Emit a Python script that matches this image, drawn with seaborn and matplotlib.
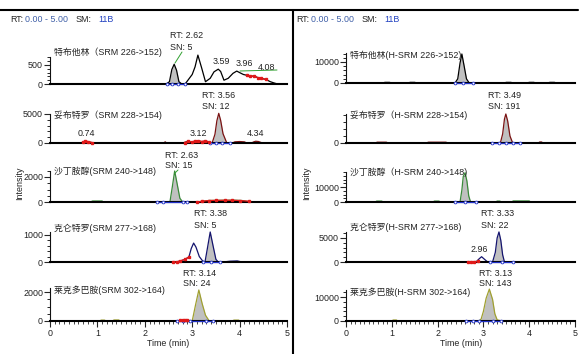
import matplotlib
matplotlib.use("Agg")
import matplotlib.pyplot as plt
import seaborn as sns
import numpy as np

sns.set_style("white")
plt.rcParams['font.family'] = ['Liberation Sans', 'Noto Sans CJK SC', 'DejaVu Sans']

# ---------------- data ----------------
TIME_TICKS = [0, 1, 2, 3, 4, 5]
HEADER = ["RT:", "0.00 - 5.00", "SM:", "11B"]

# left panel (SRM)
L_NAMES = ["特布他林（SRM 226->152)", "妥布特罗（SRM 228->154)", "沙丁胺醇(SRM 240->148)",
           "克仑特罗(SRM 277->168)", "莱克多巴胺(SRM 302->164)"]
R_NAMES = ["特布他林(H-SRM 226->152)", "妥布特罗（H-SRM 228->154)", "沙丁胺醇（H-SRM 240->148)",
           "克仑特罗(H-SRM 277->168)", "莱克多巴胺(H-SRM 302->164)"]

L1_t = [0.0, 1.0, 2.0, 2.45, 2.52, 2.57, 2.62, 2.67, 2.72, 2.78, 2.85, 3.0, 3.06, 3.12, 3.2, 3.28,
        3.38, 3.46, 3.55, 3.6, 3.67, 3.76, 3.86, 3.94, 4.0, 4.08, 4.15, 4.22, 4.3, 4.38, 4.46, 4.55,
        4.65, 4.72, 4.8, 5.0]
L1_v = [0, 0, 0, 0, 60, 380, 520, 360, 60, 0, 0, 250, 450, 760, 420, 60, 150, 320, 390, 330, 100,
        150, 280, 340, 300, 250, 230, 200, 210, 170, 150, 120, 60, 30, 0, 0]
L1_peak = [2.45, 2.78]
L1_blue = [2.47, 2.58, 2.7, 2.85]
L1_red_t = [4.15, 4.22, 4.3, 4.38, 4.46, 4.55]
L1_red_v = [230, 200, 210, 170, 150, 120]

L2_t = [0.0, 0.65, 0.7, 0.74, 0.8, 0.88, 0.95, 2.4, 2.43, 2.46, 2.8, 2.9, 3.0, 3.12, 3.2, 3.3,
        3.38, 3.42, 3.48, 3.52, 3.56, 3.6, 3.65, 3.73, 3.85, 3.9, 4.0, 4.1, 4.15, 4.25, 4.3,
        4.34, 4.4, 4.48, 5.0]
L2_v = [0, 0, 200, 300, 250, 80, 0, 0, 200, 0, 0, 300, 200, 400, 250, 350, 100, 0, 1500, 3800,
        5100, 3900, 1600, 0, 0, 200, 250, 200, 0, 0, 200, 300, 250, 0, 0]
L2_peak = [3.42, 3.73]
L2_blue = [3.38, 3.5, 3.62, 3.8]
L2_red_t = [0.7, 0.74, 0.8, 0.88, np.nan, 2.85, 2.92, 3.0, 3.06, 3.12, 3.2, 3.28, 3.35]
L2_red_v = [200, 300, 250, 80, np.nan, 50, 300, 200, 350, 400, 250, 350, 100]

L3_t = [0.0, 0.85, 0.9, 1.1, 1.12, 2.5, 2.53, 2.58, 2.63, 2.68, 2.74, 2.8, 3.1, 3.2, 3.35, 3.5,
        3.7, 3.9, 4.05, 4.22, 5.0]
L3_v = [0, 0, 80, 80, 0, 0, 0, 1200, 2480, 1500, 300, 0, 0, 50, 120, 130, 140, 140, 120, 0, 0]
L3_peak = [2.5, 2.8]
L3_blue = [2.25, 2.38, 2.8, 2.88]
L3_red_t = [3.1, 3.2, 3.35, 3.5, 3.7, 3.85, 4.0, 4.2]
L3_red_v = [0, 50, 120, 130, 140, 140, 120, 60]

L4_t = [0.0, 2.6, 2.67, 2.75, 2.85, 2.93, 2.98, 3.03, 3.08, 3.15, 3.22, 3.27, 3.32, 3.38, 3.44,
        3.5, 3.55, 3.65, 3.8, 3.95, 4.05, 5.0]
L4_v = [0, 0, 0, 40, 100, 185, 500, 700, 550, 200, 40, 0, 500, 1110, 600, 100, 0, 0, 30, 40, 0, 0]
L4_peak = [3.27, 3.55]
L4_blue = [3.23, 3.4, 3.59]
L4_red_t = [2.6, 2.67, 2.75, 2.85, 2.93]
L4_red_v = [0, 0, 40, 100, 185]

L5_t = [0.0, 1.05, 1.08, 1.15, 1.18, 1.32, 1.35, 1.45, 1.48, 2.65, 2.75, 2.85, 2.95, 3.0, 3.07,
        3.14, 3.21, 3.28, 3.36, 3.45, 3.85, 3.88, 3.98, 4.0, 5.0]
L5_v = [0, 0, 60, 60, 0, 0, 70, 70, 0, 0, 40, 60, 30, 0, 1100, 2140, 1200, 400, 0, 0, 0, 60, 60,
        0, 0]
L5_peak = [3.0, 3.36]
L5_blue = [2.68, 2.8, 2.95, 3.3, 3.44]
L5_red_t = [2.75, 2.8, 2.85, 2.9]
L5_red_v = [40, 60, 60, 40]

# right panel (H-SRM)
R1_t = [0.0, 0.8, 0.85, 0.95, 1.0, 1.35, 1.4, 1.5, 1.55, 2.38, 2.44, 2.49, 2.53, 2.58, 2.63, 2.69,
        3.45, 3.5, 3.6, 3.65, 3.95, 4.0, 4.1, 4.15, 4.4, 4.45, 4.55, 4.6, 5.0]
R1_v = [0, 0, 300, 300, 0, 0, 300, 300, 0, 0, 2000, 9500, 13800, 8000, 2000, 0, 0, 300, 300, 0,
        0, 300, 300, 0, 0, 300, 300, 0, 0]
R1_peak = [2.38, 2.69]
R1_blue = [2.38, 2.55, 2.77]

R2_t = [0.0, 0.64, 0.68, 0.88, 0.92, 1.75, 1.8, 2.18, 2.23, 3.37, 3.42, 3.46, 3.49, 3.53, 3.58,
        3.64, 4.2, 4.23, 4.27, 4.3, 5.0]
R2_v = [0, 0, 800, 800, 0, 0, 800, 800, 0, 0, 9000, 24000, 29000, 22000, 7000, 0, 0, 1000, 1000,
        0, 0]
R2_peak = [3.37, 3.64]
R2_blue = [3.18, 3.35, 3.5, 3.65, 3.8]

R3_t = [0.0, 0.64, 0.67, 0.78, 0.81, 1.9, 1.93, 2.03, 2.06, 2.49, 2.53, 2.56, 2.6, 2.64, 2.68,
        2.72, 3.27, 3.3, 3.36, 3.39, 3.62, 3.65, 4.0, 4.03, 5.0]
R3_v = [0, 0, 600, 600, 0, 0, 600, 600, 0, 0, 8000, 17000, 19500, 14000, 4000, 0, 0, 600, 600,
        0, 0, 700, 700, 0, 0]
R3_peak = [2.49, 2.72]
R3_blue = [2.38, 2.6, 2.84]

R4_t = [0.0, 2.65, 2.75, 2.85, 2.9, 2.96, 3.02, 3.08, 3.2, 3.26, 3.3, 3.34, 3.38, 3.42, 3.46,
        3.65, 5.0]
R4_v = [0, 0, 50, 100, 600, 1100, 600, 100, 0, 2000, 5000, 6250, 4500, 1500, 0, 0, 0]
R4_peak = [3.2, 3.46]
R4_blue = [3.15, 3.4, 3.65]
R4_red_t = [2.66, 2.72, 2.8, 2.88]
R4_red_v = [0, 40, 60, 120]

R5_t = [0.0, 1.0, 1.03, 1.1, 1.13, 2.9, 2.95, 3.0, 3.06, 3.13, 3.2, 3.25, 3.3, 3.4, 5.0]
R5_v = [0, 0, 400, 400, 0, 0, 800, 4000, 9500, 13300, 9000, 3000, 500, 0, 0]
R5_peak = [2.9, 3.4]
R5_blue = [2.62, 2.78, 2.9, 3.2, 3.38]

# y-axis: (units per pixel, spine top, major ticks, minor step)
L_YAX = [(26.3, 700, [0, 500], 100), (172, 5000, [0, 5000], 1000), (80, 2500, [0, 2000], 500),
         (37, 1100, [0, 1000], 200), (69, 2300, [0, 2000], 500)]
R_YAX = [(476, 14500, [0, 10000], 2000), (1000, 29000, [0], 7000), (667, 20000, [0, 10000], 2500),
         (208, 6300, [0, 5000], 1000), (417, 13000, [0, 10000], 2000)]

COLORS = ["#000000", "#7a1212", "#3a8a3a", "#14146e", "#a0a030"]

# ---------------- drawing ----------------
W, HF = 588, 354
fig = plt.figure(figsize=(W / 100, HF / 100), dpi=100)
FS = 6.4
TXT = "#222222"


def fx(x):
    return x / W


def fy(y):
    return 1 - y / HF


def label(x, y, s, ha="left", color=TXT, **kw):
    fig.text(fx(x), fy(y), s, ha=ha, va="center", fontsize=FS, color=color, **kw)


panels = [
    dict(x0=50, x5=287, bases=[84, 143, 202, 262, 321], yax=L_YAX, names=L_NAMES,
         traces=[(L1_t, L1_v, L1_peak, L1_blue, L1_red_t, L1_red_v),
                 (L2_t, L2_v, L2_peak, L2_blue, L2_red_t, L2_red_v),
                 (L3_t, L3_v, L3_peak, L3_blue, L3_red_t, L3_red_v),
                 (L4_t, L4_v, L4_peak, L4_blue, L4_red_t, L4_red_v),
                 (L5_t, L5_v, L5_peak, L5_blue, L5_red_t, L5_red_v)],
         name_y=[52, 115, 171, 228, 290]),
    dict(x0=346, x5=575, bases=[83, 143, 202, 262, 321], yax=R_YAX, names=R_NAMES,
         traces=[(R1_t, R1_v, R1_peak, R1_blue, None, None),
                 (R2_t, R2_v, R2_peak, R2_blue, None, None),
                 (R3_t, R3_v, R3_peak, R3_blue, None, None),
                 (R4_t, R4_v, R4_peak, R4_blue, R4_red_t, R4_red_v),
                 (R5_t, R5_v, R5_peak, R5_blue, None, None)],
         name_y=[55, 115, 172, 227, 292]),
]

AX_H = 42
for p in panels:
    for i in range(5):
        base = p["bases"][i]
        scale, top, majors, mstep = p["yax"][i]
        t, v, pk, blue, rt, rv = p["traces"][i]
        ax = fig.add_axes([fx(p["x0"]), fy(base), (p["x5"] - p["x0"]) / W, AX_H / HF])
        ax.set_xlim(0, 5)
        ax.set_ylim(0, scale * AX_H)
        ax.patch.set_alpha(0)
        ta = np.array(t)
        va_ = np.array(v)
        m = (ta >= pk[0]) & (ta <= pk[1])
        ax.fill_between(ta[m], va_[m], 0, color="#c0c0c0", lw=0, zorder=1)
        sns.lineplot(x=t, y=v, ax=ax, color=COLORS[i], lw=0.9, estimator=None, sort=False,
                     zorder=2, clip_on=False)
        ax.plot(blue, [0] * len(blue), color="#2030c8", lw=0.9, marker="o", ms=2.0,
                mfc="white", mec="#2030c8", mew=0.6, zorder=4, clip_on=False)
        if rt is not None:
            ax.plot(rt, rv, color="#e01818", lw=0.9, marker="s", ms=1.5, zorder=4, clip_on=False)
        for s in ["top", "right"]:
            ax.spines[s].set_visible(False)
        ax.spines["left"].set_bounds(0, top)
        ax.spines["left"].set_linewidth(0.8)
        ax.spines["left"].set_color("#111111")
        ax.spines["bottom"].set_linewidth(1.5)
        ax.spines["bottom"].set_color("#000000")
        ax.spines["bottom"].set_zorder(3)
        ax.set_yticks(majors)
        ax.set_yticklabels([str(mj) for mj in majors])
        ax.set_yticks(list(np.arange(0, top + 1, mstep)), minor=True)
        ax.tick_params(axis="y", which="major", length=4, width=0.8, pad=1, labelsize=FS,
                       labelcolor=TXT, direction="out", left=True)
        ax.tick_params(axis="y", which="minor", length=2.2, width=0.7, direction="out", left=True)
        if i == 4:
            ax.set_xticks(TIME_TICKS)
            ax.set_xticklabels([str(x) for x in TIME_TICKS])
            ax.set_xticks(list(np.arange(0, 5.001, 0.1)), minor=True)
            ax.tick_params(axis="x", which="major", length=4, width=0.8, pad=1.5, labelsize=FS,
                           labelcolor=TXT, direction="out", bottom=True)
            ax.tick_params(axis="x", which="minor", length=2, width=0.6, direction="out",
                           bottom=True)
        else:
            ax.set_xticks([])
        ax.set_xlabel("")
        ax.set_ylabel("")
        label(p["x0"] + 4, p["name_y"][i], p["names"][i])

# frame
fig.add_artist(plt.Line2D([0, fx(578)], [fy(10), fy(10)], color="black", lw=1.5))
fig.add_artist(plt.Line2D([fx(293), fx(293)], [fy(10), 0], color="black", lw=1.5))

# headers
for xo in [0, 286]:
    label(10 + xo, 19, HEADER[0])
    label(25 + xo, 19, HEADER[1], color="#4060a8")
    label(76 + xo, 19, HEADER[2])
    label(98 + xo, 19, HEADER[3], color="#2040c0")

# axis titles
label(168, 344, "Time (min)", ha="center")
label(461, 344, "Time (min)", ha="center")
fig.text(fx(20), fy(183), "Intensity", rotation=90, ha="center", va="center", fontsize=FS, color=TXT)
fig.text(fx(307), fy(183), "Intensity", rotation=90, ha="center", va="center", fontsize=FS, color=TXT)

# peak annotations (left)
label(170, 36, "RT: 2.62"); label(170, 47, "SN: 5")
label(213, 62, "3.59"); label(236, 64, "3.96"); label(258, 67, "4.08")
label(202, 96, "RT: 3.56"); label(202, 107, "SN: 12")
label(78, 134, "0.74"); label(190, 134, "3.12"); label(247, 134, "4.34")
label(165, 155, "RT: 2.63"); label(165, 166, "SN: 15")
label(194, 214, "RT: 3.38"); label(194, 225, "SN: 5")
label(183, 273, "RT: 3.14"); label(183, 284, "SN: 24")
# peak annotations (right)
label(488, 96, "RT: 3.49"); label(488, 107, "SN: 191")
label(481, 214, "RT: 3.33"); label(481, 225, "SN: 22")
label(471, 250, "2.96")
label(479, 273, "RT: 3.13"); label(479, 284, "SN: 143")

# green label connectors
GC = "#30a030"
fig.add_artist(plt.Line2D([fx(182), fx(175)], [fy(52), fy(63)], color=GC, lw=0.7))
fig.add_artist(plt.Line2D([fx(240), fx(277)], [fy(71), fy(70)], color=GC, lw=0.7))
fig.add_artist(plt.Line2D([fx(178), fx(175)], [fy(170), fy(173)], color=GC, lw=0.7))

fig.savefig("out.png", dpi=100)
